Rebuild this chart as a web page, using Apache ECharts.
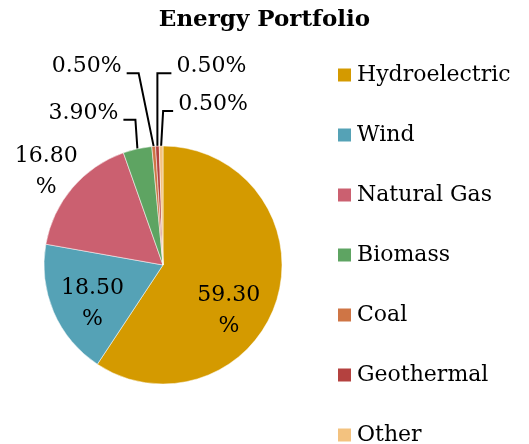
<!DOCTYPE html>
<html>
<head>
<meta charset="utf-8">
<script src="https://cdn.jsdelivr.net/npm/echarts@6/dist/echarts.min.js"></script>
<style>
  html, body { margin: 0; padding: 0; background: #fff; }
  #chart { width: 529px; height: 444px; }
</style>
</head>
<body>
<div id="chart"></div>
<script>
// data
const categories = ['Hydroelectric', 'Wind', 'Natural Gas', 'Biomass', 'Coal', 'Geothermal', 'Other'];
const shares = [59.3, 18.5, 16.8, 3.9, 0.5, 0.5, 0.5];
const colors = ['#d49a00', '#55a2b6', '#cb6070', '#5ea462', '#cf7545', '#b4413f', '#f3c27f'];
const insideNames = ['Hydroelectric', 'Wind'];

const FONT = 'DejaVu Serif';

//label tweaks (offsets from the library's own anchor point)
const insideShift = {
  Hydroelectric: [6, 28],
  Wind: [-13, 14]
};
const leaders = {
  Biomass: { dx: -2, rise: 29, run: -12 },
  Coal: { dx: -15, rise: 73, run: -12 },
  Geothermal: { dx: 0, rise: 73, run: 14 },
  Other: { dx: 2, rise: 35, run: 10 }
};

const chart = echarts.init(document.getElementById('chart'));

const data = categories.map((name, i) => {
  const item = { name, value: shares[i] };
  if (insideNames.includes(name)) item.label = { position: 'inside' };
  if (name === 'Natural Gas') item.labelLine = { lineStyle: { opacity: 0 } };
  return item;
});

chart.setOption({
  color: colors,
  animation: false,
  title: {
    text: 'Energy Portfolio',
    left: 'center',
    top: 4,
    textStyle: { fontFamily: FONT, fontWeight: 'bold', fontSize: 23, color: '#000' }
  },
  legend: {
    orient: 'vertical',
    left: 336,
    top: 64,
    height: 400,
    padding: 0,
    itemWidth: 15,
    itemHeight: 15,
    itemGap: 38,
    icon: 'rect',
    textStyle: { fontFamily: FONT, fontSize: 22, color: '#000', lineHeight: 22 }
  },
  series: [{
    type: 'pie',
    center: [163, 265],
    radius: 119,
    avoidLabelOverlap: false,
    itemStyle: { borderColor: '#fff', borderWidth: 0.5 },
    label: {
      show: true,
      position: 'outside',
      fontFamily: FONT,
      fontSize: 22,
      color: '#000',
      lineHeight: 31,
      align: 'center',
      formatter: p => p.value.toFixed(2) + (p.value >= 10 ? '\n%' : '%')
    },
    labelLine: {
      show: true,
      length: 10,
      length2: 10,
      lineStyle: { color: '#000', width: 2 }
    },
    labelLayout: function (params) {
      const name = categories[params.dataIndex];
      if (insideShift[name]) {
        return { dx: insideShift[name][0], dy: insideShift[name][1] };
      }
      const pts = params.labelLinePoints;
      if (!pts) return {};
      const p0 = pts[0];
      if (name === 'Natural Gas') {
        return { x: p0[0] - 26, y: p0[1] - 16, align: 'center', verticalAlign: 'middle' };
      }
      const l = leaders[name];
      if (!l) return {};
      const side = l.run < 0 ? -1 : 1;
      const p1 = [p0[0] + l.dx, p0[1] - l.rise];
      const p2 = [p1[0] + l.run, p1[1]];
      return {
        x: p2[0] + side * 5,
        y: p2[1] - 7,
        align: side < 0 ? 'right' : 'left',
        verticalAlign: 'middle',
        labelLinePoints: [p0, p1, p2]
      };
    },
    data: data
  }]
});
</script>
</body>
</html>
